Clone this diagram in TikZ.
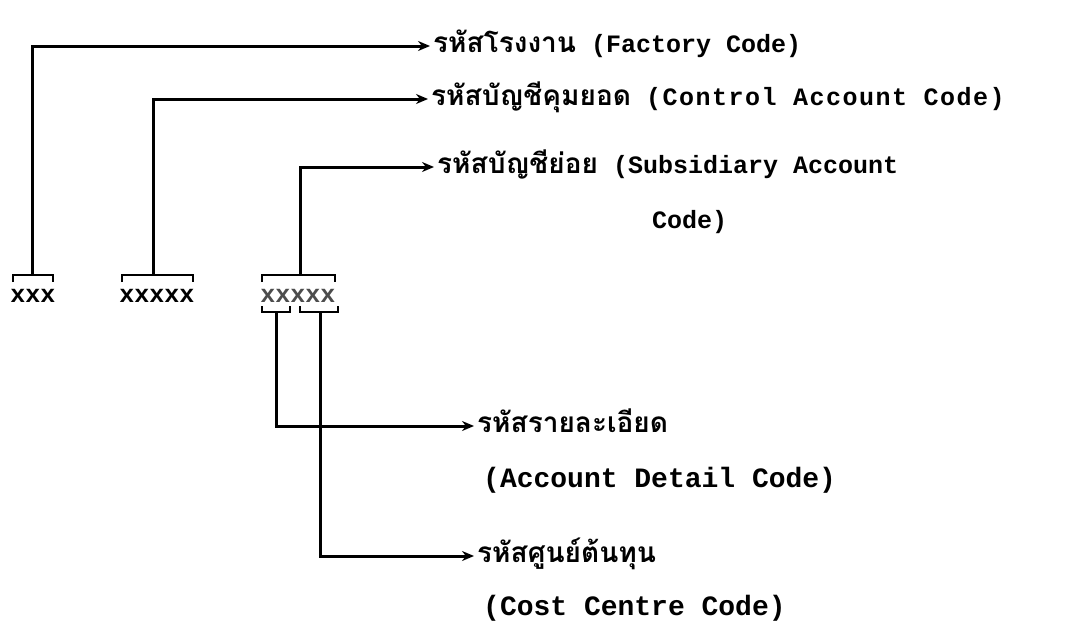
\documentclass[tikz,border=0pt]{standalone}
\usepackage{fontspec}
\setmainfont{Liberation Mono}
\newfontfamily\thai[Script=Thai]{Loma}
\usetikzlibrary{arrows.meta}

\begin{document}
\begin{tikzpicture}[x=1pt,y=-1pt,
	conn/.style={line width=3pt},
	arr/.style={conn,-{Stealth[length=12pt,width=10pt]},shorten >=3pt},
	brk/.style={line width=2.4pt},
	lbl/.style={anchor=west,inner sep=0pt,text height=12pt,text depth=0pt,
		font=\fontsize{25}{30}\selectfont\bfseries},
	big/.style={font=\fontsize{28}{32}\selectfont\bfseries},
	th/.style={font=\fontsize{28}{32}\selectfont\bfseries\thai},
	code/.style={inner sep=0pt,font=\fontsize{25}{28}\selectfont\bfseries}]
	\useasboundingbox (0,0) rectangle (1087,629);
	% the code groups
	\node[code] (g1) at (33,296) {xxx};
	\node[code] (g2) at (157,296) {xxxxx};
	\node[code,text=black!70] (g3) at (298,296) {xxxxx};
	\coordinate (b1) at (32,275);
	\coordinate (b2) at (153,275);
	\coordinate (b3) at (300,275);
	\coordinate (s1) at (276,312);
	\coordinate (s2) at (320,312);
	\draw[brk] (13,282) -- (13,275) -- (53,275) -- (53,282);
	\draw[brk] (122,282) -- (122,275) -- (193,275) -- (193,282);
	\draw[brk] (262,282) -- (262,275) -- (335,275) -- (335,282);
	\draw[brk] (262,306) -- (262,312) -- (290,312) -- (290,306);
	\draw[brk] (300,306) -- (300,312) -- (338,312) -- (338,306);
	% the labels
	\node[lbl] (fac) at (433,46) {{\thai\fontsize{28}{32}\selectfont รหัสโรงงาน} (Factory Code)};
	\node[lbl] (ctl) at (431,99) {{\thai\fontsize{28}{32}\selectfont รหัสบัญชีคุมยอด} {\addfontfeature{LetterSpace=6}(Control Account Code)}};
	\node[lbl] (sub) at (437,167) {{\thai\fontsize{28}{32}\selectfont รหัสบัญชีย่อย} (Subsidiary Account};
	\node[lbl] (subE) at (652,222) {Code)};
	\node[lbl,th] (det) at (477,426) {รหัสรายละเอียด};
	\node[lbl,big] (detE) at (483,481) {(Account Detail Code)};
	\node[lbl,th] (cst) at (477,556) {รหัสศูนย์ต้นทุน};
	\node[lbl,big] (cstE) at (483,609) {(Cost Centre Code)};
	\draw[arr] (b1) |- (fac.west);
	\draw[arr] (b2) |- (ctl.west);
	\draw[arr] (b3) |- (sub.west);
	\draw[arr] (s1) |- (det.west);
	\draw[arr] (s2) |- (cst.west);
\end{tikzpicture}
\end{document}
